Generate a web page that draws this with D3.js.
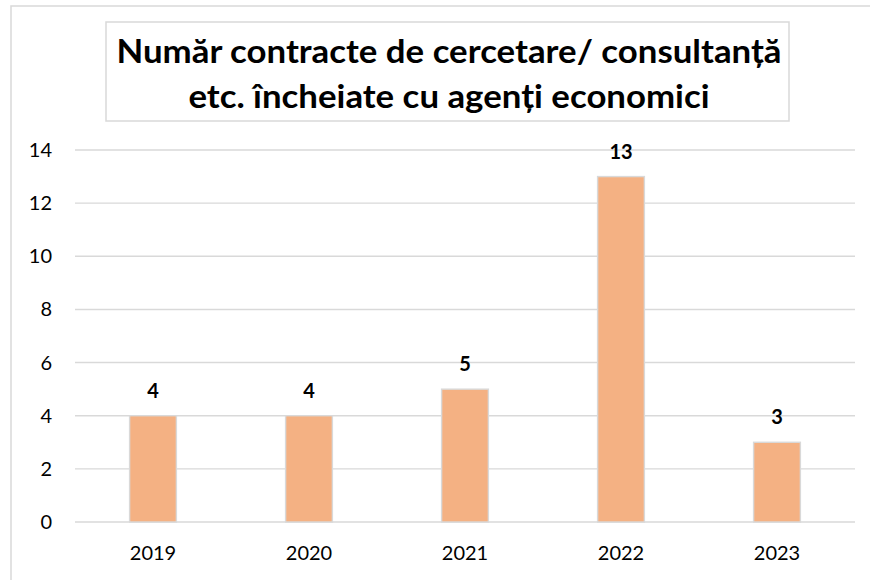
<!DOCTYPE html>
<html>
<head>
<meta charset="utf-8">
<script src="https://cdn.jsdelivr.net/npm/d3@7"></script>
<style>
  body { margin: 0; background: #fff; }
  svg { display: block; }
  text { font-family: Lato, "Open Sans", sans-serif; fill: #000; }
</style>
</head>
<body>
<svg id="chart" width="870" height="580"></svg>
<script>
// data
const years = ["2019", "2020", "2021", "2022", "2023"];
const contracts = [4, 4, 5, 13, 3];
const yTicks = [0, 2, 4, 6, 8, 10, 12, 14];
const titleLines = ["Număr contracte de cercetare/ consultanță", "etc. încheiate cu agenți economici"];

const svg = d3.select("#chart");
const grey = "#d9d9d9";

// outer chart frame (cut off at right and bottom)
svg.append("rect")
    .attr("x", 11).attr("y", 6)
    .attr("width", 870).attr("height", 590)
    .attr("fill", "#fff")
    .attr("stroke", grey).attr("stroke-width", 1.5);

const x = d3.scaleBand().domain(years).range([75, 855]).paddingInner(0.7).paddingOuter(0.35);
const y = d3.scaleLinear().domain([0, 14]).range([522, 150]);

// gridlines
svg.append("g").selectAll("line")
    .data(yTicks)
    .enter().append("line")
    .attr("x1", 75).attr("x2", 855)
    .attr("y1", d => y(d)).attr("y2", d => y(d))
    .attr("stroke", grey).attr("stroke-width", 1.4);

// y axis labels
svg.append("g").selectAll("text")
    .data(yTicks)
    .enter().append("text")
    .attr("x", 52)
    .attr("y", d => y(d) + 7)
    .attr("text-anchor", "end")
    .attr("font-size", 20)
    .text(d => d);

// bars
svg.append("g").selectAll("rect")
    .data(contracts)
    .enter().append("rect")
    .attr("x", (d, i) => x(years[i]))
    .attr("y", d => y(d))
    .attr("width", x.bandwidth())
    .attr("height", d => y(0) - y(d))
    .attr("fill", "#F4B183")
    .attr("stroke", grey).attr("stroke-width", 1.4);

// value labels
svg.append("g").selectAll("text")
    .data(contracts)
    .enter().append("text")
    .attr("x", (d, i) => x(years[i]) + x.bandwidth() / 2)
    .attr("y", d => y(d) - 18)
    .attr("text-anchor", "middle")
    .attr("font-size", 20)
    .attr("font-weight", "bold")
    .text(d => d);

// x axis labels
svg.append("g").selectAll("text")
    .data(years)
    .enter().append("text")
    .attr("x", d => x(d) + x.bandwidth() / 2)
    .attr("y", 560)
    .attr("text-anchor", "middle")
    .attr("font-size", 20)
    .text(d => d);

// title box
svg.append("rect")
    .attr("x", 106).attr("y", 22)
    .attr("width", 683).attr("height", 99)
    .attr("fill", "#fff")
    .attr("stroke", grey).attr("stroke-width", 1.5);

const title = svg.append("g").selectAll("text")
    .data(titleLines)
    .enter().append("text")
    .attr("x", 449)
    .attr("y", (d, i) => 63 + i * 45)
    .attr("text-anchor", "middle")
    .attr("font-weight", "bold")
    .attr("font-size", 32)
    .text(d => d);

// squeeze glyphs so the first line is ~665px wide, like the narrow bold face in the picture
const widths = title.nodes().map(n => n.getComputedTextLength());
const k = 665 / widths[0];
title.attr("textLength", (d, i) => widths[i] * k)
    .attr("lengthAdjust", "spacingAndGlyphs");
</script>
</body>
</html>
